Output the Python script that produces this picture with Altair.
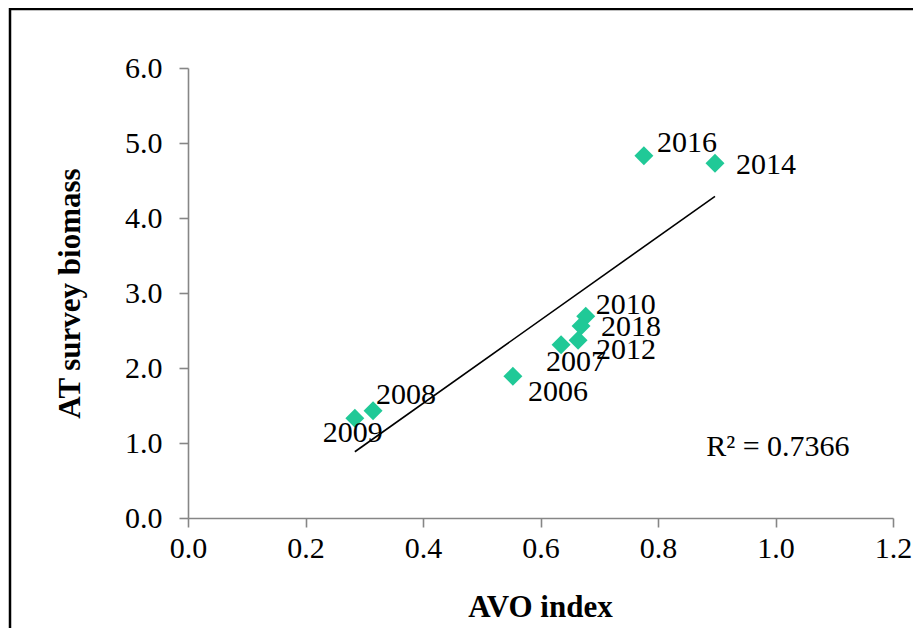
import altair as alt
import pandas as pd

years = ["2016", "2014", "2010", "2018", "2012", "2007", "2006", "2008", "2009"]
avo_index = [0.776, 0.897, 0.677, 0.669, 0.664, 0.635, 0.553, 0.315, 0.284]
at_biomass = [4.83, 4.73, 2.69, 2.56, 2.37, 2.31, 1.89, 1.43, 1.33]

x_ticks = [0.0, 0.2, 0.4, 0.6, 0.8, 1.0, 1.2]
y_ticks = [0.0, 1.0, 2.0, 3.0, 4.0, 5.0, 6.0]
r2_text = "R² = 0.7366"

# label placement (pixel offsets from each point), Excel-like
label_offsets = {
    "2016": (13, -13), "2014": (21, 2), "2010": (10, -11), "2018": (20, 1),
    "2012": (18, 10), "2007": (-15, 17), "2006": (15, 16), "2008": (3, -16),
    "2009": (-32, 15),
}

df = pd.DataFrame({"year": years, "x": avo_index, "y": at_biomass})

FONT = "Liberation Serif"
GREEN = "#20c997"
AXIS_GRAY = "#868686"

xs = alt.Scale(domain=[0, 1.2], nice=False, zero=True)
ys = alt.Scale(domain=[0, 6], nice=False, zero=True)

base = alt.Chart(df)

xenc = alt.X("x:Q", scale=xs, axis=alt.Axis(
    values=x_ticks, format=".1f", title="AVO index", grid=False,
    titleX=352, titleY=89, titleBaseline="middle", titleAlign="center",
    labelPadding=6, tickSize=9, labelFlush=False))
yenc = alt.Y("y:Q", scale=ys, axis=alt.Axis(
    values=y_ticks, format=".1f", title="AT survey biomass", grid=False,
    titleX=-118, titleY=225, titleAngle=-90, titleBaseline="middle",
    titleAlign="center", labelPadding=17, tickSize=9, labelFlush=False))

points = base.mark_point(shape="diamond", filled=True, opacity=1,
                         color=GREEN, size=360).encode(x=xenc, y=yenc)

trend = base.transform_regression("x", "y").mark_line(
    color="black", strokeWidth=1.6).encode(x=alt.X("x:Q", scale=xs),
                                           y=alt.Y("y:Q", scale=ys))

label_layers = []
for yr, (dx, dy) in label_offsets.items():
    label_layers.append(
        base.transform_filter(alt.datum.year == yr).mark_text(
            font=FONT, fontSize=30, align="left", baseline="middle",
            dx=dx, dy=dy, color="black").encode(
            x=alt.X("x:Q", scale=xs), y=alt.Y("y:Q", scale=ys), text="year:N"))

r2 = alt.Chart(pd.DataFrame({"x": [0.882], "y": [0.947], "t": [r2_text]})).mark_text(
    font=FONT, fontSize=30, align="left", baseline="middle", color="black").encode(
    x=alt.X("x:Q", scale=xs), y=alt.Y("y:Q", scale=ys), text="t:N")

border = alt.Chart(pd.DataFrame({"a": [0]})).mark_rect(
    fill=None, stroke="black", strokeWidth=2.5, clip=False).encode(
    x=alt.value(-178), x2=alt.value(780), y=alt.value(-59), y2=alt.value(580))

chart = alt.layer(border, trend, points, *label_layers, r2).properties(
    width=705, height=450,
    autosize=alt.AutoSizeParams(type="none"),
    padding={"left": 180, "top": 60, "right": 20, "bottom": 110},
).configure_view(stroke=None).configure_axis(
    domainColor=AXIS_GRAY, tickColor=AXIS_GRAY, domainWidth=1.6, tickWidth=1.6,
    labelFont=FONT, labelFontSize=30, labelColor="black",
    titleFont=FONT, titleFontSize=31, titleFontWeight="bold", titleColor="black",
)

chart.save("out.html", embed_options={"renderer": "svg", "actions": False})
